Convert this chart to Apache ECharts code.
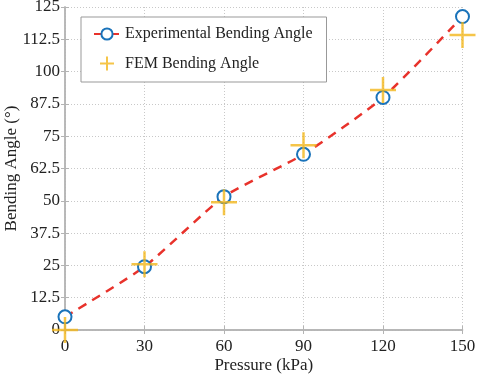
<!DOCTYPE html>
<html>
<head>
<meta charset="utf-8">
<script src="https://cdn.jsdelivr.net/npm/echarts@6/dist/echarts.min.js"></script>
<style>
  html, body { margin: 0; padding: 0; background: #fff; }
  #chart { width: 477px; height: 375px; }
</style>
</head>
<body>
<div id="chart"></div>
<script>
// data
var pressure = [0, 30, 60, 90, 120, 150];
var experimental = [5.1, 24.5, 51.6, 68.0, 90.0, 121.3];
var fem = [0, 25.4, 49.4, 71.5, 92.9, 114.2];

var font = "Liberation Serif";
var axisGray = "#b4b4b4";

function pairs(xs, ys) {
  return xs.map(function (x, i) { return [x, ys[i]]; });
}

var boxAxis = {
  min: 0,
  axisLine: { show: true, lineStyle: { color: axisGray, width: 1.5 } },
  axisTick: { show: true, inside: true, length: 4, lineStyle: { color: axisGray } },
  axisLabel: { show: false },
  splitLine: { show: false }
};
var gridLine = { show: true, lineStyle: { color: "#c8c8c8", type: [1, 2], width: 1 } };

var chart = echarts.init(document.getElementById("chart"));
chart.setOption({
  animation: false,
  grid: { left: 65, right: 14.5, top: 7, bottom: 45, containLabel: false, outerBoundsMode: "none" },
  textStyle: { fontFamily: font },
  legend: {
    orient: "vertical",
    left: 81,
    top: 17,
    padding: [9, 14, 9, 12],
    itemGap: 12,
    itemWidth: 26,
    itemHeight: 14,
    backgroundColor: "#fff",
    borderColor: "#999",
    borderWidth: 1,
    textStyle: { fontFamily: font, fontSize: 16, color: "#222" },
    data: ["Experimental Bending Angle", "FEM Bending Angle"]
  },
  xAxis: [
    {
      type: "value",
      min: 0,
      max: 150,
      interval: 30,
      name: "Pressure (kPa)",
      nameLocation: "middle",
      nameGap: 27,
      nameMoveOverlap: false,
      nameTextStyle: { fontFamily: font, fontSize: 17, color: "#222" },
      axisLine: { show: true, lineStyle: { color: axisGray, width: 1.5 } },
      axisTick: { show: true, inside: true, length: 4, lineStyle: { color: axisGray } },
      axisLabel: { fontFamily: font, fontSize: 17, color: "#222", margin: 8 },
      splitLine: gridLine
    },
    Object.assign({}, boxAxis, { type: "value", position: "top", max: 150, interval: 30 })
  ],
  yAxis: [
    {
      type: "value",
      min: 0,
      max: 125,
      interval: 12.5,
      name: "Bending Angle (°)",
      nameLocation: "middle",
      nameGap: 45,
      nameMoveOverlap: false,
      nameTextStyle: { fontFamily: font, fontSize: 17, color: "#222" },
      axisLine: { show: true, lineStyle: { color: axisGray, width: 1.5 } },
      axisTick: { show: true, inside: true, length: 4, lineStyle: { color: axisGray } },
      axisLabel: { fontFamily: font, fontSize: 17, color: "#222", margin: 5 },
      splitLine: gridLine
    },
    Object.assign({}, boxAxis, { type: "value", position: "right", max: 125, interval: 12.5 })
  ],
  series: [
    {
      name: "Experimental Bending Angle",
      type: "line",
      data: pairs(pressure, experimental),
      smooth: 0.2,
      symbol: "emptyCircle",
      symbolSize: 13,
      showSymbol: true,
      clip: false,
      z: 3,
      lineStyle: { color: "#E8322B", width: 2.5, type: [9, 7] },
      itemStyle: { color: "#1A73BA", borderColor: "#1A73BA", borderWidth: 2.5 }
    },
    {
      name: "FEM Bending Angle",
      type: "scatter",
      data: pairs(pressure, fem),
      symbol: "path://M0,13L26,13M13,0L13,26",
      symbolSize: 26,
      clip: false,
      z: 4,
      itemStyle: { color: "none", borderColor: "#F2B71C", borderWidth: 2.5 }
    }
  ]
});
</script>
</body>
</html>
